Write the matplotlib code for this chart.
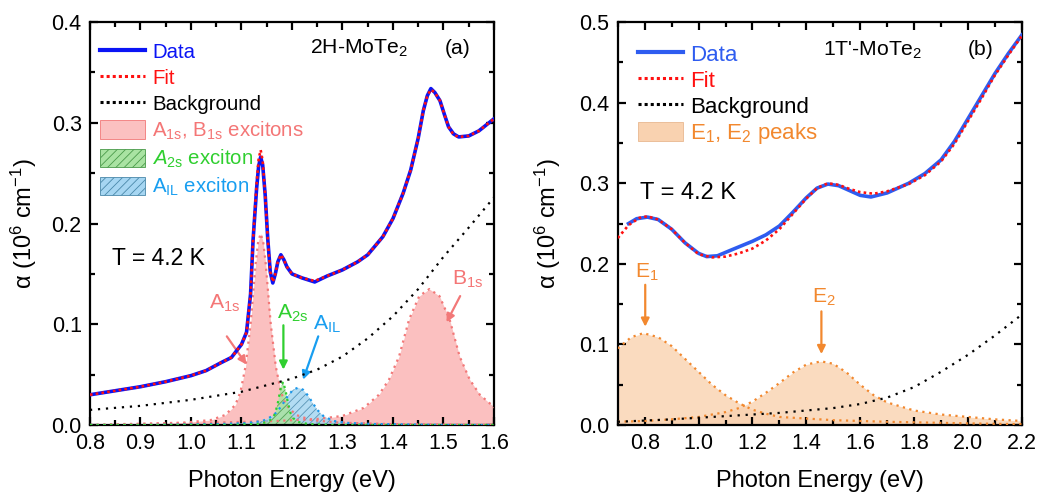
import numpy as np
import matplotlib
matplotlib.use("Agg")
import matplotlib.pyplot as plt
from matplotlib.lines import Line2D
from matplotlib.patches import Patch
from matplotlib.ticker import MultipleLocator, FormatStrFormatter

plt.rcParams['font.family'] = ['Liberation Sans', 'DejaVu Sans']
plt.rcParams['mathtext.fontset'] = 'custom'
plt.rcParams['mathtext.rm'] = 'Liberation Sans'
plt.rcParams['mathtext.it'] = 'Liberation Sans:italic'
plt.rcParams['mathtext.bf'] = 'Liberation Sans:bold'
plt.rcParams['hatch.linewidth'] = 0.6

# ---------------- Panel (a): 2H-MoTe2 ----------------
a_data_E = [0.80, 0.85, 0.90, 0.95, 1.00, 1.03, 1.06, 1.08, 1.10, 1.11, 1.118, 1.123, 1.13, 1.134,
            1.138, 1.142, 1.147, 1.152, 1.157, 1.162, 1.167, 1.172, 1.178, 1.184, 1.19, 1.20, 1.22,
            1.245, 1.27, 1.30, 1.33, 1.35, 1.38, 1.40, 1.42, 1.435, 1.45, 1.46, 1.468, 1.475,
            1.483, 1.493, 1.502, 1.51, 1.52, 1.53, 1.55, 1.57, 1.60]
a_data_v = [0.030, 0.034, 0.038, 0.043, 0.049, 0.054, 0.062, 0.067, 0.080, 0.092, 0.130, 0.184, 0.235, 0.257,
            0.266, 0.258, 0.228, 0.185, 0.152, 0.141, 0.150, 0.162, 0.169, 0.164, 0.157, 0.150, 0.146,
            0.142, 0.148, 0.154, 0.162, 0.169, 0.187, 0.205, 0.230, 0.253, 0.285, 0.312, 0.327, 0.334,
            0.330, 0.322, 0.308, 0.296, 0.289, 0.286, 0.287, 0.292, 0.304]
a_fit_E = a_data_E
a_fit_v = [0.030, 0.034, 0.038, 0.043, 0.049, 0.054, 0.062, 0.067, 0.080, 0.092, 0.130, 0.184, 0.240, 0.264,
           0.273, 0.262, 0.228, 0.185, 0.152, 0.142, 0.150, 0.162, 0.169, 0.164, 0.157, 0.150, 0.146,
           0.143, 0.148, 0.154, 0.162, 0.169, 0.187, 0.205, 0.230, 0.253, 0.285, 0.312, 0.327, 0.333,
           0.330, 0.322, 0.308, 0.296, 0.288, 0.286, 0.287, 0.292, 0.304]
a_bg_E = [0.80, 0.90, 1.00, 1.10, 1.20, 1.25, 1.30, 1.35, 1.40, 1.45, 1.50, 1.55, 1.60]
a_bg_v = [0.015, 0.019, 0.025, 0.033, 0.046, 0.055, 0.068, 0.086, 0.108, 0.135, 0.167, 0.196, 0.226]

a_A1s_E = [0.80, 0.90, 0.99, 1.04, 1.068, 1.088, 1.098, 1.108, 1.118, 1.123, 1.128, 1.133, 1.138,
           1.143, 1.148, 1.153, 1.158, 1.168, 1.178, 1.188, 1.208, 1.238, 1.288, 1.388, 1.60]
a_A1s_v = [0.000, 0.001, 0.0025, 0.005, 0.010, 0.020, 0.033, 0.058, 0.100, 0.130, 0.160, 0.182, 0.190,
           0.182, 0.160, 0.130, 0.100, 0.058, 0.033, 0.020, 0.010, 0.005, 0.0025, 0.001, 0.000]
a_B1s_E = [0.80, 0.87, 1.02, 1.17, 1.25, 1.30, 1.342, 1.372, 1.392, 1.412, 1.432, 1.452, 1.472,
           1.492, 1.512, 1.532, 1.552, 1.572, 1.602]
a_B1s_v = [0.000, 0.001, 0.002, 0.004, 0.006, 0.009, 0.017, 0.030, 0.045, 0.068, 0.105, 0.128, 0.135,
           0.128, 0.105, 0.068, 0.045, 0.030, 0.017]
a_A2s_E = [0.80, 1.08, 1.132, 1.152, 1.162, 1.167, 1.172, 1.177, 1.182, 1.187, 1.192, 1.197,
           1.202, 1.212, 1.232, 1.282, 1.60]
a_A2s_v = [0.000, 0.000, 0.001, 0.003, 0.007, 0.012, 0.022, 0.035, 0.043, 0.035, 0.022, 0.012,
           0.007, 0.003, 0.001, 0.000, 0.000]
a_AIL_E = [0.80, 0.91, 1.06, 1.112, 1.142, 1.162, 1.172, 1.182, 1.192, 1.202, 1.212, 1.222, 1.232,
           1.242, 1.252, 1.262, 1.282, 1.312, 1.362, 1.512, 1.60]
a_AIL_v = [0.000, 0.000, 0.001, 0.002, 0.004, 0.009, 0.014, 0.021, 0.029, 0.035, 0.037, 0.035, 0.029,
           0.021, 0.014, 0.009, 0.004, 0.002, 0.001, 0.000, 0.000]

# ---------------- Panel (b): 1T'-MoTe2 ----------------
b_data_E = [0.74, 0.77, 0.81, 0.85, 0.90, 0.95, 1.00, 1.03, 1.07, 1.12, 1.20, 1.25, 1.30, 1.35,
            1.40, 1.44, 1.48, 1.52, 1.56, 1.60, 1.64, 1.70, 1.78, 1.84, 1.90, 1.95, 2.00, 2.05,
            2.10, 2.15, 2.20]
b_data_v = [0.250, 0.256, 0.258, 0.255, 0.243, 0.226, 0.213, 0.209, 0.210, 0.217, 0.228, 0.236, 0.247, 0.264,
            0.282, 0.294, 0.299, 0.297, 0.291, 0.285, 0.283, 0.288, 0.300, 0.312, 0.329, 0.352, 0.380, 0.408,
            0.436, 0.461, 0.484]
b_fit_E = [0.70, 0.74, 0.78, 0.81, 0.85, 0.90, 0.95, 1.00, 1.05, 1.10, 1.15, 1.20, 1.25, 1.30,
           1.35, 1.40, 1.44, 1.48, 1.52, 1.56, 1.60, 1.65, 1.70, 1.78, 1.84, 1.90, 1.95, 2.00,
           2.05, 2.10, 2.15, 2.20]
b_fit_v = [0.232, 0.248, 0.257, 0.259, 0.255, 0.243, 0.226, 0.212, 0.208, 0.209, 0.213, 0.219, 0.229, 0.243,
           0.262, 0.281, 0.294, 0.300, 0.298, 0.293, 0.289, 0.287, 0.290, 0.299, 0.310, 0.327, 0.349, 0.377,
           0.405, 0.434, 0.459, 0.483]
b_bg_E = [0.70, 0.90, 1.10, 1.30, 1.50, 1.60, 1.70, 1.80, 1.90, 2.00, 2.10, 2.20]
b_bg_v = [0.004, 0.007, 0.011, 0.015, 0.021, 0.026, 0.034, 0.047, 0.066, 0.087, 0.111, 0.137]
b_E1_E = [0.70, 0.75, 0.795, 0.85, 0.90, 0.95, 1.00, 1.05, 1.10, 1.15, 1.20, 1.25, 1.30, 1.40,
          1.50, 1.70, 2.00, 2.20]
b_E1_v = [0.095, 0.109, 0.114, 0.109, 0.098, 0.082, 0.066, 0.050, 0.037, 0.027, 0.019, 0.014, 0.010, 0.008,
          0.006, 0.004, 0.002, 0.001]
b_E2_E = [0.70, 0.80, 0.90, 1.00, 1.10, 1.15, 1.20, 1.25, 1.30, 1.35, 1.40, 1.455, 1.50, 1.55,
          1.60, 1.65, 1.70, 1.80, 1.90, 2.00, 2.10, 2.20]
b_E2_v = [0.004, 0.005, 0.007, 0.010, 0.016, 0.021, 0.029, 0.040, 0.052, 0.065, 0.075, 0.079, 0.076, 0.065,
          0.050, 0.037, 0.028, 0.018, 0.013, 0.010, 0.007, 0.005]

# ---------------- styles ----------------
BLUE_A = '#0a14f5'
BLUE_B = '#2e5cf0'
RED = '#ff1010'
PINK_FILL = '#fbc0c0'
PINK_EDGE = '#f27878'
PINK_TXT = '#f47676'
GREEN_FILL = '#a9e3a2'
GREEN_EDGE = '#2fcf2f'
GREEN_HATCH = '#4a9a4a'
BLUE_FILL = '#a6d6f2'
BLUE_EDGE = '#1c98ea'
BLUE_HATCH = '#4a88aa'
BLUE_TXT = '#189ef0'
OR_FILL = '#f9d2b0'
OR_EDGE = '#f2882e'

fit_ls = (0, (1.0, 1.2))
bg_ls = (0, (1.0, 2.6))
edge_ls = (0, (1.0, 2.0))

fig = plt.figure(figsize=(10.4, 4.98), dpi=100)
axA = fig.add_axes([0.0865, 0.1466, 0.3885, 0.809])
axB = fig.add_axes([0.594, 0.1466, 0.3885, 0.809])

TICK_FS = 15.5
LAB_FS = 17
LEG_FS_A = 14.7
LEG_FS_B = 16
ANN_FS = 15.2
T_FS_A = 16.5
T_FS_B = 17

def style_axes(ax, xmaj, xmin, ymaj, ymin):
    for s in ax.spines.values():
        s.set_linewidth(1.6)
    ax.xaxis.set_major_locator(MultipleLocator(xmaj))
    ax.xaxis.set_minor_locator(MultipleLocator(xmin))
    ax.yaxis.set_major_locator(MultipleLocator(ymaj))
    ax.yaxis.set_minor_locator(MultipleLocator(ymin))
    ax.xaxis.set_major_formatter(FormatStrFormatter('%.1f'))
    ax.yaxis.set_major_formatter(FormatStrFormatter('%.1f'))
    ax.tick_params(which='both', direction='in', top=True, right=True, width=1.6,
                   labelsize=TICK_FS, pad=6)
    ax.tick_params(which='major', length=6)
    ax.tick_params(which='minor', length=3.5)

# ---- panel (a)
axA.fill_between(a_B1s_E, a_B1s_v, color=PINK_FILL, lw=0, zorder=1)
axA.fill_between(a_A1s_E, a_A1s_v, color=PINK_FILL, lw=0, zorder=1)
axA.fill_between(a_AIL_E, a_AIL_v, facecolor=BLUE_FILL, edgecolor=BLUE_HATCH, hatch='////', lw=0, alpha=0.85, zorder=2)
axA.fill_between(a_A2s_E, a_A2s_v, facecolor=GREEN_FILL, edgecolor=GREEN_HATCH, hatch='////', lw=0, alpha=0.85, zorder=2)
axA.plot(a_B1s_E, a_B1s_v, color=PINK_EDGE, lw=1.6, ls=edge_ls, zorder=3)
axA.plot(a_A1s_E, a_A1s_v, color=PINK_EDGE, lw=1.6, ls=edge_ls, zorder=3)
axA.plot(a_AIL_E, a_AIL_v, color=BLUE_EDGE, lw=1.6, ls=edge_ls, zorder=3)
axA.plot(a_A2s_E, a_A2s_v, color=GREEN_EDGE, lw=1.6, ls=edge_ls, zorder=3)
axA.plot(a_bg_E, a_bg_v, color='black', lw=1.6, ls=bg_ls, zorder=4)
axA.plot(a_data_E, a_data_v, color=BLUE_A, lw=2.6, zorder=5, solid_joinstyle='round')
axA.plot(a_fit_E, a_fit_v, color=RED, lw=1.9, ls=fit_ls, zorder=6)

axA.set_xlim(0.8, 1.6)
axA.set_ylim(0.0, 0.4)
style_axes(axA, 0.1, 0.05, 0.1, 0.05)
axA.set_xlabel('Photon Energy (eV)', fontsize=LAB_FS)
axA.set_ylabel(r'α (10$^{6}$ cm$^{-1}$)', fontsize=LAB_FS)
axA.xaxis.set_label_coords(0.5, -0.112)
axA.yaxis.set_label_coords(-0.126, 0.5)

axA.text(0.545, 0.935, r"2H-MoTe$_2$", transform=axA.transAxes, fontsize=ANN_FS,
         ha='left', va='center')
axA.text(0.879, 0.935, "(a)", transform=axA.transAxes, fontsize=ANN_FS,
         ha='left', va='center')
axA.text(0.054, 0.414, "T = 4.2 K", transform=axA.transAxes, fontsize=T_FS_A,
         ha='left', va='center')

arrow_kw = dict(arrowstyle='-|>', lw=1.6, mutation_scale=12, shrinkA=0, shrinkB=0)
axA.annotate('', xy=(1.110, 0.060), xytext=(1.071, 0.088),
             arrowprops=dict(color=PINK_EDGE, **arrow_kw))
axA.text(1.067, 0.121, r'$\mathregular{A_{1s}}$', color=PINK_TXT, fontsize=ANN_FS, ha='center', va='center')
axA.annotate('', xy=(1.183, 0.055), xytext=(1.183, 0.099),
             arrowprops=dict(color=GREEN_EDGE, **arrow_kw))
axA.text(1.202, 0.111, r'$\mathregular{A_{2s}}$', color=GREEN_EDGE, fontsize=ANN_FS, ha='center', va='center')
axA.annotate('', xy=(1.222, 0.045), xytext=(1.252, 0.088),
             arrowprops=dict(color=BLUE_TXT, **arrow_kw))
axA.text(1.269, 0.100, r'$\mathregular{A_{IL}}$', color=BLUE_TXT, fontsize=ANN_FS, ha='center', va='center')
axA.annotate('', xy=(1.506, 0.102), xytext=(1.533, 0.128),
             arrowprops=dict(color=PINK_EDGE, **arrow_kw))
axA.text(1.548, 0.145, r'$\mathregular{B_{1s}}$', color=PINK_TXT, fontsize=ANN_FS, ha='center', va='center')

handlesA = [
    Line2D([], [], color=BLUE_A, lw=3),
    Line2D([], [], color=RED, lw=2.2, ls=(0, (1, 1))),
    Line2D([], [], color='black', lw=2.2, ls=(0, (1, 1))),
    Patch(facecolor=PINK_FILL, edgecolor=PINK_EDGE, lw=0.6),
    Patch(facecolor=GREEN_FILL, edgecolor=GREEN_HATCH, hatch='////', lw=0.6),
    Patch(facecolor=BLUE_FILL, edgecolor=BLUE_HATCH, hatch='////', lw=0.6),
]
labelsA = ['Data', 'Fit', 'Background', r'$\mathregular{A_{1s}}$, $\mathregular{B_{1s}}$ excitons',
           r'$\mathit{A}_{\mathregular{2s}}$ exciton', r'$\mathregular{A_{IL}}$ exciton']
legA = axA.legend(handlesA, labelsA, loc='upper left', bbox_to_anchor=(0.025, 0.952),
                  frameon=False, fontsize=LEG_FS_A, handlelength=2.2, handleheight=1.0,
                  handletextpad=0.35, labelspacing=0.29, borderaxespad=0, borderpad=0,
                  labelcolor=[BLUE_A, RED, 'black', PINK_TXT, GREEN_EDGE, BLUE_TXT])

# ---- panel (b)
axB.fill_between(b_E1_E, b_E1_v, color=OR_FILL, lw=0, alpha=0.8, zorder=1)
axB.fill_between(b_E2_E, b_E2_v, color=OR_FILL, lw=0, alpha=0.8, zorder=1)
axB.plot(b_E1_E, b_E1_v, color=OR_EDGE, lw=1.6, ls=edge_ls, zorder=3)
axB.plot(b_E2_E, b_E2_v, color=OR_EDGE, lw=1.6, ls=edge_ls, zorder=3)
axB.plot(b_bg_E, b_bg_v, color='black', lw=1.6, ls=bg_ls, zorder=4)
axB.plot(b_data_E, b_data_v, color=BLUE_B, lw=2.6, zorder=5)
axB.plot(b_fit_E, b_fit_v, color=RED, lw=1.9, ls=fit_ls, zorder=6)

axB.set_xlim(0.7, 2.2)
axB.set_ylim(0.0, 0.5)
style_axes(axB, 0.2, 0.1, 0.1, 0.05)
axB.set_xlabel('Photon Energy (eV)', fontsize=LAB_FS)
axB.set_ylabel(r'α (10$^{6}$ cm$^{-1}$)', fontsize=LAB_FS)
axB.xaxis.set_label_coords(0.5, -0.112)
axB.yaxis.set_label_coords(-0.135, 0.5)

axB.text(0.508, 0.931, r"1T'-MoTe$_2$", transform=axB.transAxes, fontsize=ANN_FS,
         ha='left', va='center')
axB.text(0.867, 0.931, "(b)", transform=axB.transAxes, fontsize=ANN_FS,
         ha='left', va='center')
axB.text(0.055, 0.576, "T = 4.2 K", transform=axB.transAxes, fontsize=T_FS_B,
         ha='left', va='center')
axB.annotate('', xy=(0.802, 0.122), xytext=(0.802, 0.174),
             arrowprops=dict(color=OR_EDGE, **arrow_kw))
axB.text(0.810, 0.190, r'$\mathregular{E_1}$', color=OR_EDGE, fontsize=ANN_FS, ha='center', va='center')
axB.annotate('', xy=(1.456, 0.088), xytext=(1.456, 0.141),
             arrowprops=dict(color=OR_EDGE, **arrow_kw))
axB.text(1.465, 0.159, r'$\mathregular{E_2}$', color=OR_EDGE, fontsize=ANN_FS, ha='center', va='center')

handlesB = [
    Line2D([], [], color=BLUE_B, lw=3),
    Line2D([], [], color=RED, lw=2.2, ls=(0, (1, 1))),
    Line2D([], [], color='black', lw=2.2, ls=(0, (1, 1))),
    Patch(facecolor=OR_FILL, edgecolor='#e8b890', lw=0.6),
]
labelsB = ['Data', 'Fit', 'Background', r'$\mathregular{E_1}$, $\mathregular{E_2}$ peaks']
legB = axB.legend(handlesB, labelsB, loc='upper left', bbox_to_anchor=(0.05, 0.947),
                  frameon=False, fontsize=LEG_FS_B, handlelength=2.03, handleheight=0.95,
                  handletextpad=0.3, labelspacing=0.17, borderaxespad=0, borderpad=0,
                  labelcolor=[BLUE_B, RED, 'black', OR_EDGE])

fig.savefig('out.png', dpi=100)
